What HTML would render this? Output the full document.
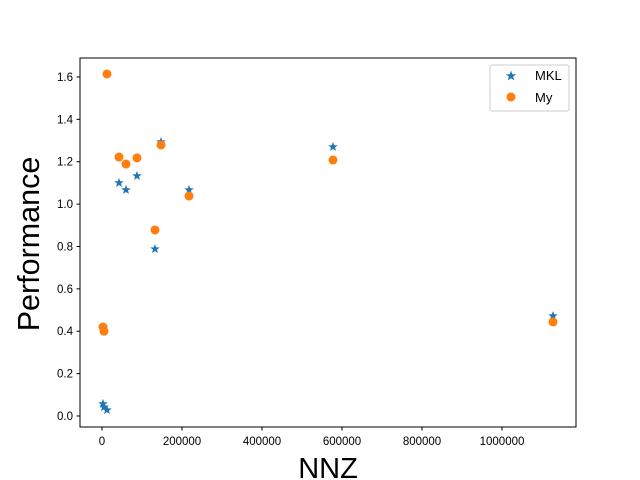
<!DOCTYPE html>
<html><head><meta charset="utf-8"><style>body{margin:0;background:#fff}svg{display:block;font-family:"Liberation Sans","DejaVu Sans",sans-serif}</style></head>
<body>
<svg id="chart" width="640" height="480">
<rect x="0" y="0" width="640" height="480" fill="#fff"/>
<g id="marks"></g>
<rect x="80" y="58" width="496" height="369" fill="none" stroke="#000" stroke-width="1"/>
<g id="axes"></g>
<text x="328" y="478" text-anchor="middle" font-size="29">NNZ</text>
<text transform="translate(39,244) rotate(-90)" text-anchor="middle" font-size="30.5">Performance</text>
<g>
<rect x="490" y="65" width="79" height="46" rx="2" fill="#fff" stroke="#ccc"/>
<g><path d="M511,70.5 L512.3,74.2 L516.2,74.3 L513.1,76.6 L514.2,80.4 L511,78.2 L507.8,80.4 L508.9,76.6 L505.8,74.3 L509.7,74.2 Z" fill="#1f77b4"/><text x="535" y="80" font-size="13">MKL</text></g>
<g><circle cx="511" cy="97" r="4.5" fill="#ff7f0e"/><text x="535" y="102" font-size="13">My</text></g>
</g>
</svg>
<script>
const nnz = [2500, 5000, 12500, 42500, 60000, 87500, 132500, 147500, 217500, 577500, 1127500];
const mklPerf = [0.057, 0.042, 0.028, 1.10, 1.067, 1.133, 0.788, 1.293, 1.067, 1.27, 0.472];
const myPerf = [0.42, 0.40, 1.614, 1.222, 1.189, 1.218, 0.878, 1.279, 1.038, 1.208, 0.444];
const xTicks = [0, 200000, 400000, 600000, 800000, 1000000];
const yTicks = [0.0, 0.2, 0.4, 0.6, 0.8, 1.0, 1.2, 1.4, 1.6];

const xs = v => 102 + v * 0.0004;
const ys = v => 416 - v * 211.9;
const NS = 'http://www.w3.org/2000/svg';
const marks = document.getElementById('marks');
const axes = document.getElementById('axes');
function mk(tag, attrs, parent) {
  const e = document.createElementNS(NS, tag);
  for (const k in attrs) e.setAttribute(k, attrs[k]);
  parent.appendChild(e);
  return e;
}
function starPath(cx, cy, R) {
  let d = '';
  const r = R * 0.42;
  for (let i = 0; i < 10; i++) {
    const a = -Math.PI / 2 + i * Math.PI / 5;
    const rr = i % 2 ? r : R;
    d += (i ? 'L' : 'M') + (cx + rr * Math.cos(a)).toFixed(2) + ',' + (cy + rr * Math.sin(a)).toFixed(2);
  }
  return d + 'Z';
}
nnz.forEach((n, i) => {
  const s = mk('path', {d: starPath(xs(n), ys(mklPerf[i]), 5), fill: '#1f77b4'}, marks);
  
  
});
nnz.forEach((n, i) => {
  const c = mk('circle', {cx: xs(n), cy: ys(myPerf[i]), r: 4.5, fill: '#ff7f0e'}, marks);
  
  
});
xTicks.forEach(t => {
  const x = xs(t);
  const l = mk('line', {x1: x, x2: x, y1: 427, y2: 430.5, stroke: '#000'}, axes);
  
  
  const tx = mk('text', {x: x, y: 445, 'text-anchor': 'middle', 'font-size': 11.5}, axes);
  tx.textContent = String(t);
  
  
});
yTicks.forEach(t => {
  const y = ys(t);
  const l = mk('line', {x1: 76.5, x2: 80, y1: y, y2: y, stroke: '#000'}, axes);
  
  
  const tx = mk('text', {x: 73, y: y + 4, 'text-anchor': 'end', 'font-size': 11.5}, axes);
  tx.textContent = t.toFixed(1);
  
  
});
</script>
</body></html>
